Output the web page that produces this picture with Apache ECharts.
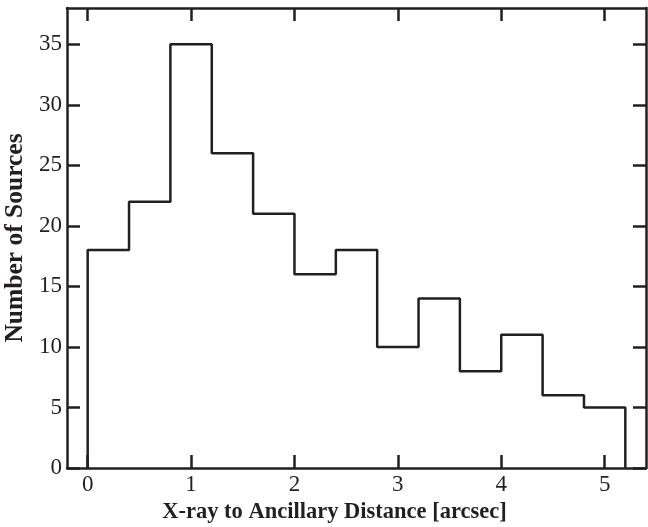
<!DOCTYPE html>
<html lang="en">
<head>
  <meta charset="UTF-8">
  <title>Histogram</title>
  <script src="https://cdn.jsdelivr.net/npm/echarts@6/dist/echarts.min.js"></script>
</head>
<body style="margin: 0; background: #fff;">
<div id="main" style="width: 648px; height: 527px;"></div>
<script type="text/javascript">
  // bin left edges [arcsec] and counts
  const binStarts = [0, 0.4, 0.8, 1.2, 1.6, 2.0, 2.4, 2.8, 3.2, 3.6, 4.0, 4.4, 4.8]
  const binEnd = 5.2
  const counts = [18, 22, 35, 26, 21, 16, 18, 10, 14, 8, 11, 6, 5]
  const xTicks = [0, 1, 2, 3, 4, 5]
  const yTicks = [0, 5, 10, 15, 20, 25, 30, 35]

  const ink = '#231f20'
  const font = 'Liberation Serif'

  // step outline of the histogram
  const outline = [[binStarts[0], 0]]
  binStarts.forEach((x, i) => outline.push([x, counts[i]]))
  outline.push([binEnd, counts[counts.length - 1]])
  outline.push([binEnd, 0])

  const myChart = echarts.init(document.getElementById('main'))

  const axisLine = {show: true, onZero: false, lineStyle: {color: ink, width: 2.5}}
  const tick = (vals) => ({inside: true, length: 13, customValues: vals, lineStyle: {color: ink, width: 2.5}})

  const option = {
    animation: false,
    grid: {left: 67, right: 2, top: 8, bottom: 59, containLabel: false, outerBoundsMode: 'none'},
    xAxis: [{
      type: 'value', min: -0.2, max: 5.4,
      axisLine: axisLine,
      axisTick: tick(xTicks),
      axisLabel: {customValues: xTicks, color: ink, fontFamily: font, fontSize: 23, margin: 5},
      splitLine: {show: false},
      name: 'X-ray to Ancillary Distance [arcsec]',
      nameLocation: 'middle',
      nameGap: 23,
      nameTextStyle: {color: ink, fontFamily: font, fontSize: 22.5, fontWeight: 'bold', padding: [0, 44, 0, 0]}
    }, {
      type: 'value', position: 'top', min: -0.2, max: 5.4,
      axisLine: axisLine,
      axisTick: tick(xTicks),
      axisLabel: {show: false},
      splitLine: {show: false}
    }],
    yAxis: [{
      type: 'value', min: 0, max: 38,
      axisLine: axisLine,
      axisTick: tick(yTicks),
      axisLabel: {customValues: yTicks, color: ink, fontFamily: font, fontSize: 23, margin: 5},
      splitLine: {show: false},
      name: 'Number of Sources',
      nameLocation: 'middle',
      nameGap: 38,
      nameTextStyle: {color: ink, fontFamily: font, fontSize: 25.5, fontWeight: 'bold'}
    }, {
      type: 'value', position: 'right', min: 0, max: 38,
      axisLine: axisLine,
      axisTick: tick(yTicks),
      axisLabel: {show: false},
      splitLine: {show: false}
    }],
    series: [{
      type: 'line',
      step: 'end',
      data: outline,
      symbol: 'none',
      lineStyle: {color: ink, width: 2.5}
    }]
  }

  myChart.setOption(option)
</script>
</body>
</html>
